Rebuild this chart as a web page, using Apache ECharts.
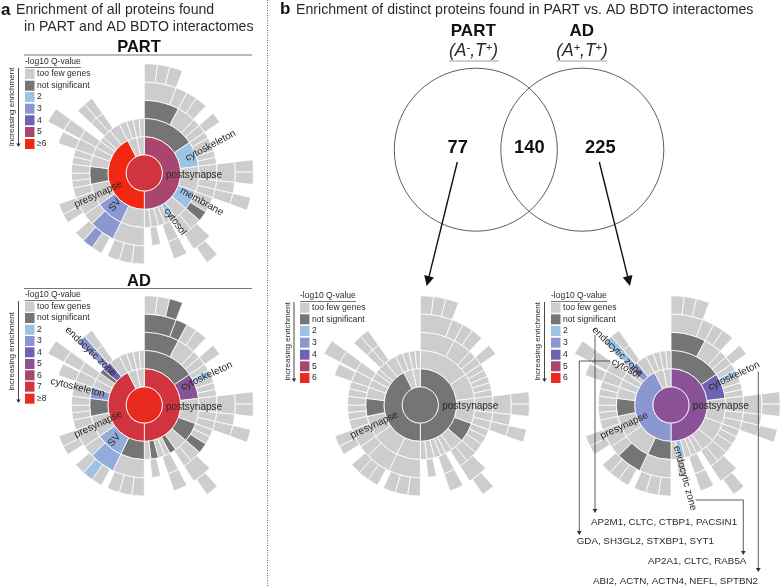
<!DOCTYPE html>
<html><head><meta charset="utf-8">
<style>html,body{margin:0;padding:0;background:#fff}#c{width:780px;height:587px}</style>
<script src="https://cdn.jsdelivr.net/npm/echarts@6/dist/echarts.min.js"></script>
</head><body><div id="c"></div>
<script>
// ---------- tree of SynGO terms: [key, value, children]; key '' is an empty stretch ----------
const branchA=['A',56,[['a1',28,[['a11',20.5,[['a111',7],['a112',6.5],['a113',7]]],['a12',7.5]]],['a2',15,[['a21',7],['a22',7.5]]],['a3',6],['a4',7,[['a41',7]]]]];
const branchB=['B',27,[['b1',5.4],['b2',5.4],['b3',5.4],['b4',5.4],['b5',5.4]]];
const branchC=['C',27,[['c1',13,[['c11',13,[['c111',6.5],['c112',6.5]]]]],['c2',7,[['c21',7]]],['c3',7,[['c31',7,[['c311',7]]]]]]];
const branchD=['D',20.6,[['d1',6],['d2',6.5],['d3',8.1]]];
const branchE=['E',14.4,[['e1',9.4,[['',3.4],['e11',13,[['',4],['e111',7]]]]],['e2',7]]];
const branchG=['G',6,[['g1',9,[['g11',9]]]]];
const branchI=['I',8,[['',2],['i1',7]]];
const branchK=['K',25.5,[['k1',25.5,[['k11',8],['k12',8],['k13',8]]]]];
const branchSV=['SV',29.5,[['sv1',20.5,[['',2.5],['sv11',7],['sv12',7],['sv13',7]]],['sv2',9]]];
const branchL=['L',23,[['l1',15,[['',2],['l11',6],['l12',7]]],['l2',8]]];
const branchM=['M',19,[['m1',6],['m2',6],['m3',7]]];
const branchN=['N',12,[['n1',6],['n2',6]]];
const branchO=['O',9,[['o1',9,[['o11',8]]]]];
const branchP=['P',8,[['p1',8,[['p11',8,[['p111',8]]]]]]];
const branchR=['R',10,[['',2],['r1',6,[['r11',6]]],['r2',6,[['r21',6]]]]];
const postsynapse=['post',180,[branchA,branchB,branchC,branchD,branchE,['F',7],branchG,['H',7],branchI,['J',7]]];
const presynapse=['pre',153,[branchK,branchSV,branchL,branchM,branchN,branchO,branchP,['Q',5],branchR,['S',12]]];
const otherU=['U',15,[['u1',8],['u2',7]]];
const otherV=['V',12,[['v1',6.5],['v2',5.5]]];
const synapse=['disc',360,[postsynapse,presynapse,otherU,otherV]];

// ---------- colours ----------
const FEW='#CDCDCD',NS='#757575',B2='#9EC2E2',B2b='#93ACDA',B3='#8A97D0',B4='#6F62B2',PU='#8B5196',PL='#A9466F',CR='#D1343F',RD='#E92A1F',OR='#F1280F';
const partColors={disc:CR,post:PL,pre:OR,A:NS,a1:NS,B:B2,D:B2,d3:NS,F:B2,M:NS,SV:B3,sv1:B3,sv12:B3};
const adColors={disc:RD,post:CR,pre:CR,A:NS,a1:NS,a11:NS,a12:NS,a113:NS,B:PU,b2:B2,D:NS,d3:NS,F:NS,I:NS,K:NS,SV:B2b,sv1:B2b,sv12:B2,M:NS,N:B3,Q:NS,R:B4,r1:B3,r11:B3};
const partOnlyColors={disc:NS,post:NS,pre:NS,D:NS,M:NS};
const adOnlyColors={disc:PU,post:PU,pre:B3,A:NS,a1:NS,B:B4,b2:B2,I:B2,K:NS,sv1:NS,M:NS,R:B3,r1:B2,r11:B2};

// ---------- legends ----------
const legendPart=[['too few genes',FEW],['not significant',NS],['2',B2],['3',B3],['4',B4],['5',PL],['≥6',OR]];
const legendAd=[['too few genes',FEW],['not significant',NS],['2',B2],['3',B3],['4',B4],['5',PU],['6',PL],['7',CR],['≥8',RD]];
const legendPlain=[['too few genes',FEW],['not significant',NS],['2',B2],['3',B3],['4',B4],['5',PL],['6',RD]];

const F='"Liberation Sans",Arial,sans-serif', INK='#2a2a2a';
function toNode(n,colors){
  const [k,v,c]=n;
  if(k==='') return {name:'',value:v,itemStyle:{color:'rgba(0,0,0,0)',borderWidth:0,borderColor:'rgba(0,0,0,0)'}};
  const o={name:k,value:v,itemStyle:{color:colors[k]||FEW}};
  if(c) o.children=c.map(x=>toNode(x,colors));
  return o;
}
const step=18.2;
const levels=[{}].concat([0,1,2,3,4,5].map(i=>({r0:i*step,r:(i+1)*step})));
function sun(cx,cy,colors){
  return {type:'sunburst',center:[cx,cy],radius:[0,6*step],startAngle:90,sort:null,nodeClick:false,
    levels:levels,data:[toNode(synapse,colors)],label:{show:false},
    itemStyle:{borderColor:'#fff',borderWidth:0.8},emphasis:{focus:'none'},animation:false};
}
const g=[];
function txt(s,x,y,size,o){o=o||{};g.push({type:'text',z:100,x,y,rotation:(o.rot||0)*Math.PI/180,silent:true,
  style:{text:s,font:(o.style||'')+' '+(o.bold?'bold ':'')+size+'px '+F,fill:o.fill||INK,align:o.align||'left',verticalAlign:'middle',rich:o.rich}});}
function line(pts,o){o=o||{};g.push({type:'polyline',z:99,silent:true,shape:{points:pts},style:{stroke:o.c||'#222',lineWidth:o.w||1,fill:null,lineDash:o.dash}});}
function arrow(x1,y1,x2,y2,o){o=o||{};const h=o.h||6,b=o.b||3,a=Math.atan2(y2-y1,x2-x1),cs=Math.cos(a),sn=Math.sin(a);
  line([[x1,y1],[x2-cs*h*0.7,y2-sn*h*0.7]],o);
  g.push({type:'polygon',z:99,silent:true,shape:{points:[[x2,y2],[x2-cs*h-sn*b,y2-sn*h+cs*b],[x2-cs*h+sn*b,y2-sn*h-cs*b]]},style:{fill:o.c||'#111'}});}
function legend(x,ys,items,arrowX,arrowY0,arrowY1,titleY){
  txt('-log10 Q-value',x,titleY,8.5);
  line([[x,titleY+5.5],[x+56,titleY+5.5]],{c:'#555',w:0.8});
  items.forEach((it,i)=>{
    g.push({type:'rect',z:99,silent:true,shape:{x,y:ys[i]-5,width:9.5,height:10},style:{fill:it[1]}});
    txt(it[0],x+12,ys[i],8.6);
  });
  arrow(arrowX,arrowY0,arrowX,arrowY1,{c:'#333',w:0.9,h:3.5,b:2.2});
  txt('Increasing enrichment',arrowX-6.5,(arrowY0+arrowY1)/2-0.5,8,{rot:90,align:'center'});
}
const L=10;
// panel a
txt('a',1,10,17,{bold:true,fill:'#111'});
txt('Enrichment of all proteins found',16,10.5,14.1);
txt('in PART and AD BDTO interactomes',24,27.5,14.1);
txt('PART',139,47,16.5,{bold:true,fill:'#111',align:'center'});
line([[24,55],[252,55]],{c:'#777',w:1});
txt('AD',139,281,16.5,{bold:true,fill:'#111',align:'center'});
line([[24,288.5],[252,288.5]],{c:'#777',w:1});
legend(25,[74,85.7,97,108.7,120.3,132,144],legendPart,18.5,68,147,62);
legend(25,[306.7,318,329.7,341,352.3,364,375.3,386.7,398.7],legendAd,18.5,301,403,295);
// panel b
txt('b',280,9,17,{bold:true,fill:'#111'});
txt('Enrichment of distinct proteins found in PART vs. AD BDTO interactomes',296,10.2,14.15);
txt('PART',473.3,31,17,{bold:true,fill:'#111',align:'center'});
txt('AD',581.7,31,17,{bold:true,fill:'#111',align:'center'});
const richMath={a:{font:'italic 17.5px '+F,fill:INK},s:{font:'italic 11px '+F,fill:INK,verticalAlign:'top',lineHeight:17}};
txt('{a|(A}{s|-}{a|,T}{s|+}{a|)}',473.5,51,17.5,{align:'center',rich:richMath});
txt('{a|(A}{s|+}{a|,T}{s|+}{a|)}',582,51,17.5,{align:'center',rich:richMath});
line([[449,61],[499,61]],{c:'#888',w:0.8});
line([[556,61],[607,61]],{c:'#888',w:0.8});
[[475.8,149.7],[582.3,149.7]].forEach(c=>g.push({type:'circle',z:98,silent:true,shape:{cx:c[0],cy:c[1],r:81.5},style:{fill:null,stroke:'#333',lineWidth:0.8}}));
txt('77',457.7,148,18.3,{bold:true,fill:'#111',align:'center'});
txt('140',529.3,148,18.3,{bold:true,fill:'#111',align:'center'});
txt('225',600.3,148,18.3,{bold:true,fill:'#111',align:'center'});
arrow(457.3,162,426.7,286,{c:'#111',w:1.4,h:10,b:5});
arrow(599.3,162,630,286,{c:'#111',w:1.4,h:10,b:5});
legend(300,[307.7,319.3,331,342.7,354.7,366.3,378],legendPlain,294,302,382,296);
legend(551,[307.7,319.3,331,342.7,354.7,366.3,378],legendPlain,544.5,302,382,296);
// sunburst term labels
txt('cytoskeleton',210.7,145.7,L,{rot:28,align:'center'});
txt('postsynapse',194,175,L,{align:'center'});
txt('membrane',201.7,201.7,L,{rot:-29,align:'center'});
txt('cytosol',175,221.7,L,{rot:-54,align:'center'});
txt('SV',115,205,L,{rot:50,align:'center'});
txt('presynapse',98.3,194.3,L,{rot:25,align:'center'});
txt('cytoskeleton',206.7,376,L,{rot:25,align:'center'});
txt('postsynapse',194,407,L,{align:'center'});
txt('presynapse',98.3,424.3,L,{rot:25,align:'center'});
txt('SV',114.3,440,L,{rot:50,align:'center'});
txt('cytoskeleton',77.7,387.7,L,{rot:-14,align:'center'});
txt('endocytic zone',90.7,351.7,L,{rot:-44,align:'center'});
txt('postsynapse',470.3,406.7,L,{align:'center'});
txt('presynapse',374.3,425,L,{rot:25,align:'center'});
txt('cytoskeleton',734,376,L,{rot:25,align:'center'});
txt('postsynapse',720.7,406.7,L,{align:'center'});
txt('presynapse',624.3,425.7,L,{rot:25,align:'center'});
txt('cytosol',626,368.3,L,{rot:-28,align:'center'});
txt('endocytic zone',617.3,351.7,L,{rot:-44,align:'center'});
txt('endocytic zone',685,478.3,L,{rot:-75,align:'center'});
// call-outs
const CO='#333';
arrow(595,335,595,513,{c:CO,w:0.8,h:4,b:2.4});
line([[610,361],[579.3,361]],{c:CO,w:0.8});
arrow(579.3,361,579.3,535,{c:CO,w:0.8,h:4,b:2.4});
line([[695.7,500],[743.3,500]],{c:CO,w:0.8});
arrow(743.3,500,743.3,555,{c:CO,w:0.8,h:4,b:2.4});
arrow(758.3,371.7,758.3,572,{c:CO,w:0.8,h:4,b:2.4});
txt('AP2M1, CLTC, CTBP1, PACSIN1',591,522.7,9.8);
txt('GDA, SH3GL2, STXBP1, SYT1',576.7,541.7,9.8);
txt('AP2A1, CLTC, RAB5A',648,561.7,9.8);
txt('ABI2, ACTN, ACTN4, NEFL, SPTBN2',593,581,9.8);
// panel divider
line([[267.5,0],[267.5,587]],{c:'#333',w:0.8,dash:[1,1.5]});

const chart=echarts.init(document.getElementById('c'),null,{renderer:'canvas'});
chart.setOption({animation:false,backgroundColor:'#fff',
  series:[sun(144.3,173,partColors),sun(144.3,405,adColors),sun(420.3,405,partOnlyColors),sun(671,405,adOnlyColors)],
  graphic:{elements:g}});
</script></body></html>
